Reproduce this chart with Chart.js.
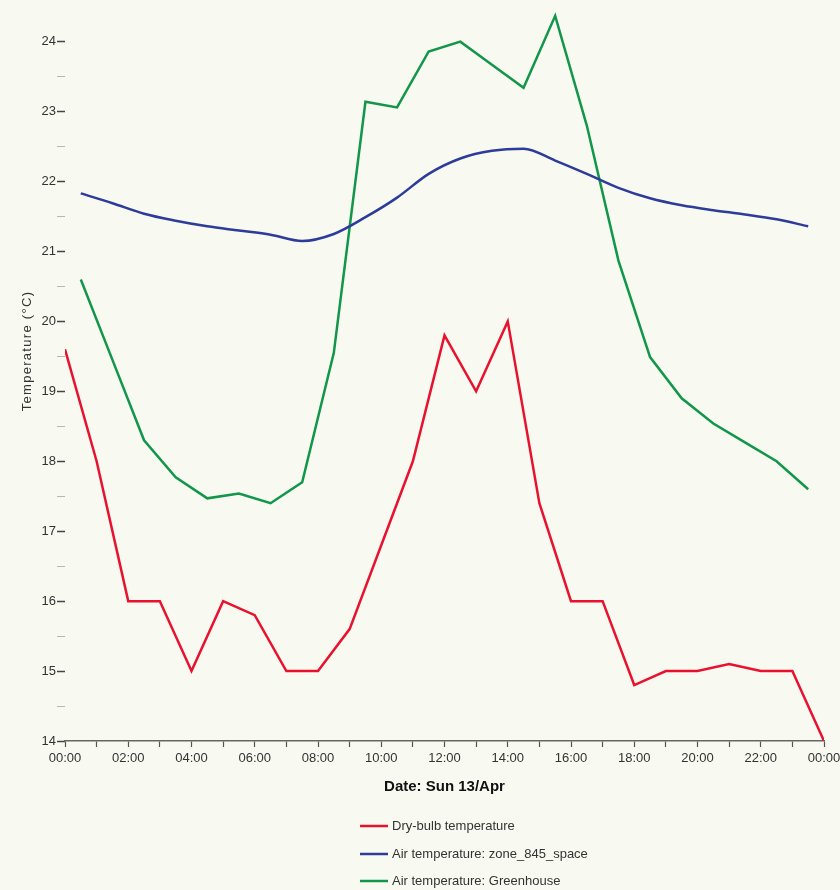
<!DOCTYPE html>
<html>
<head>
<meta charset="utf-8">
<script src="https://cdn.jsdelivr.net/npm/chart.js@4.4.1/dist/chart.umd.min.js"></script>
<style>
  html, body { margin: 0; padding: 0; background: #f8f9f0; }
  #wrap { position: relative; width: 840px; height: 890px; }
</style>
</head>
<body>
<div id="wrap"><canvas id="c" width="840" height="890"></canvas></div>
<script>
// Hourly outdoor readings (hour of day 0..24)
const dryBulbHours = [0,1,2,3,4,5,6,7,8,9,10,11,12,13,14,15,16,17,18,19,20,21,22,23,24];
const dryBulbTemp  = [19.6,18.0,16.0,16.0,15.0,16.0,15.8,15.0,15.0,15.6,16.8,18.0,19.8,19.0,20.0,17.4,16.0,16.0,14.8,15.0,15.0,15.1,15.0,15.0,14.0];

// Zone averages reported at the half hour
const zoneHours = [0.5,1.5,2.5,3.5,4.5,5.5,6.5,7.5,8.5,9.5,10.5,11.5,12.5,13.5,14.5,15.5,16.5,17.5,18.5,19.5,20.5,21.5,22.5,23.5];
const zoneSpaceTemp = [21.83,21.69,21.54,21.44,21.36,21.30,21.24,21.15,21.25,21.49,21.77,22.11,22.33,22.44,22.47,22.30,22.11,21.91,21.76,21.66,21.59,21.53,21.46,21.36];
const greenhouseTemp = [20.6,19.45,18.3,17.77,17.47,17.54,17.4,17.7,19.55,23.14,23.06,23.86,24.0,23.67,23.34,24.37,22.8,20.87,19.49,18.9,18.54,18.27,18.0,17.6];

const seriesLabels = ['Dry-bulb temperature', 'Air temperature: zone_845_space', 'Air temperature: Greenhouse'];
const seriesColors = ['#e8122f', '#2d3b9b', '#11964a'];

const xTickHours = [0,1,2,3,4,5,6,7,8,9,10,11,12,13,14,15,16,17,18,19,20,21,22,23,24];
const yTickValues = [14,14.5,15,15.5,16,16.5,17,17.5,18,18.5,19,19.5,20,20.5,21,21.5,22,22.5,23,23.5,24];

const FONT = '"Liberation Sans", Arial, sans-serif';
const BG = '#f8f9f0';

const toPoints = (xs, ys) => xs.map((x, i) => ({ x, y: ys[i] }));

const hourLabel = h => {
  if (h % 2 !== 0) return '';
  const hh = h % 24;
  return (hh < 10 ? '0' : '') + hh + ':00';
};

// Canvas background
const backgroundPlugin = {
  id: 'bg',
  beforeDraw(chart) {
    const { ctx, width, height } = chart;
    ctx.save();
    ctx.fillStyle = BG;
    ctx.fillRect(0, 0, width, height);
    ctx.restore();
  }
};

// Rotated y axis caption
const yCaptionPlugin = {
  id: 'yCaption',
  afterDraw(chart) {
    const { ctx } = chart;
    ctx.save();
    ctx.translate(27, 351);
    ctx.rotate(-Math.PI / 2);
    ctx.font = '13px ' + FONT;
    if ('letterSpacing' in ctx) ctx.letterSpacing = '1.3px';
    ctx.fillStyle = '#333';
    ctx.textAlign = 'center';
    ctx.textBaseline = 'middle';
    ctx.fillText('Temperature (°C)', 0, 0);
    ctx.restore();
  }
};

// Stacked legend under the axis caption
const stackedLegendPlugin = {
  id: 'stackedLegend',
  afterDraw(chart) {
    const { ctx } = chart;
    const x0 = 360, rows = [826, 854, 881];
    ctx.save();
    ctx.font = '13px ' + FONT;
    ctx.textBaseline = 'middle';
    ctx.textAlign = 'left';
    chart.data.datasets.forEach((ds, i) => {
      const y = rows[i];
      ctx.strokeStyle = ds.borderColor;
      ctx.lineWidth = 2.5;
      ctx.beginPath();
      ctx.moveTo(x0, y);
      ctx.lineTo(x0 + 28, y);
      ctx.stroke();
      ctx.fillStyle = '#333';
      ctx.fillText(ds.label, x0 + 32, y);
    });
    ctx.restore();
  }
};

new Chart(document.getElementById('c'), {
  type: 'line',
  data: {
    datasets: [
      {
        label: seriesLabels[0],
        data: toPoints(dryBulbHours, dryBulbTemp),
        borderColor: seriesColors[0],
        borderWidth: 2.5,
        pointRadius: 0,
        tension: 0
      },
      {
        label: seriesLabels[1],
        data: toPoints(zoneHours, zoneSpaceTemp),
        borderColor: seriesColors[1],
        borderWidth: 2.5,
        pointRadius: 0,
        cubicInterpolationMode: 'monotone'
      },
      {
        label: seriesLabels[2],
        data: toPoints(zoneHours, greenhouseTemp),
        borderColor: seriesColors[2],
        borderWidth: 2.5,
        pointRadius: 0,
        tension: 0
      }
    ]
  },
  options: {
    responsive: false,
    animation: false,
    events: [],
    layout: { padding: { left: 5, right: 16, top: 0, bottom: 90 } },
    plugins: {
      legend: { display: false },
      tooltip: { enabled: false }
    },
    scales: {
      x: {
        type: 'linear',
        min: 0,
        max: 24,
        afterBuildTicks(scale) { scale.ticks = xTickHours.map(v => ({ value: v })); },
        afterFit(scale) {
          scale.height = 59;
          scale.paddingLeft = 0;
          scale.paddingRight = 0;
        },
        ticks: {
          autoSkip: false,
          maxRotation: 0,
          padding: 4,
          color: '#333',
          font: { family: FONT, size: 13 },
          callback: v => hourLabel(v)
        },
        grid: {
          drawOnChartArea: false,
          drawTicks: true,
          tickLength: 6,
          tickColor: '#555',
          tickWidth: 1.2
        },
        border: { display: true, color: '#666', width: 1.5 },
        title: {
          display: true,
          text: 'Date: Sun 13/Apr',
          color: '#111',
          font: { family: FONT, size: 15, weight: 'bold' },
          padding: { top: 4, bottom: 4 }
        }
      },
      y: {
        type: 'linear',
        min: 14,
        max: 24.47,
        afterBuildTicks(scale) { scale.ticks = yTickValues.map(v => ({ value: v })); },
        afterFit(scale) { scale.width = 60; },
        ticks: {
          padding: 1,
          color: '#333',
          font: { family: FONT, size: 13 },
          callback: v => (Number.isInteger(v) ? String(v) : '')
        },
        grid: {
          drawOnChartArea: false,
          drawTicks: true,
          tickLength: 8,
          tickColor: c => (Number.isInteger(c.tick.value) ? '#444' : '#b8b8b0'),
          tickWidth: c => (Number.isInteger(c.tick.value) ? 1.5 : 1)
        },
        border: { display: false }
      }
    }
  },
  plugins: [backgroundPlugin, yCaptionPlugin, stackedLegendPlugin]
});
</script>
</body>
</html>
